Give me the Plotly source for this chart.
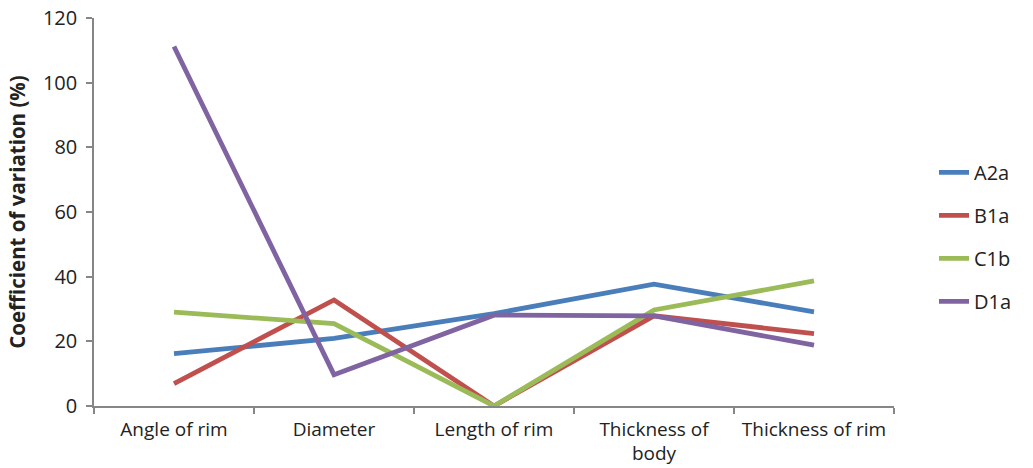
import plotly.graph_objects as go

categories = ["Angle of rim", "Diameter", "Length of rim", "Thickness of<br>body", "Thickness of rim"]
a2a = [16.2, 20.9, 28.6, 37.7, 29.1]
b1a = [6.9, 32.8, 0.0, 27.9, 22.4]
c1b = [29.0, 25.5, 0.0, 29.7, 38.7]
d1a = [111.2, 9.7, 28.1, 27.9, 18.8]

series = [("A2a", a2a, "#4A7EBB"), ("B1a", b1a, "#C0504D"),
          ("C1b", c1b, "#9BBB59"), ("D1a", d1a, "#8064A2")]

fig = go.Figure()
for name, vals, col in series:
    fig.add_trace(go.Scatter(x=categories, y=vals, mode="lines", name=name,
                             legendgroup=name,
                             line=dict(color=col, width=4.8)))

font = dict(family="'Open Sans', Lato, sans-serif", size=20, color="#222222")

fig.update_layout(
    width=1033, height=468,
    margin=dict(l=94, r=139, t=17.5, b=62, autoexpand=False),
    paper_bgcolor="white", plot_bgcolor="white",
    font=font,
    showlegend=True,
    legend=dict(x=1.05, y=0.436, xanchor="left", yanchor="middle",
                tracegroupgap=14, font=dict(size=20),
                bgcolor="rgba(0,0,0,0)"),
    xaxis=dict(type="category", showgrid=False, showline=True,
               linecolor="#868686", linewidth=1.5, automargin=False,
               ticks="outside", tickson="boundaries", ticklen=6,
               tickcolor="#868686", tickwidth=1.5, zeroline=False,
               tickangle=0, tickfont=dict(size=19), ticklabelstandoff=5,
               range=[-0.5, 4.5]),
    yaxis=dict(range=[0, 120], dtick=20, showgrid=False, showline=True,
               linecolor="#868686", linewidth=1.5, automargin=False,
               ticks="outside", ticklen=6, tickcolor="#868686", tickwidth=1.5,
               ticklabelstandoff=5, zeroline=False,
               title=dict(text="<b>Coefficient of variation (%)</b>",
                          font=dict(size=20.5), standoff=12)),
)

fig.write_html("out.html", config={"displayModeBar": False},
               post_script="document.body.style.margin='0px';document.body.style.overflow='hidden';")
